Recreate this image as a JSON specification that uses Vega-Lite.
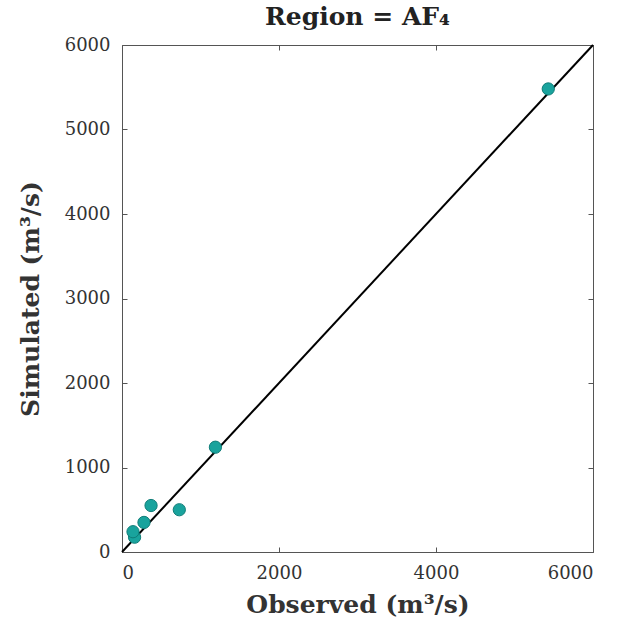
{
  "$schema": "https://vega.github.io/schema/vega-lite/v6.json",
  "width": 471,
  "height": 507,
  "autosize": "none",
  "padding": {"left": 122, "top": 45, "right": 31, "bottom": 72},
  "background": "white",
  "config": {
    "font": "DejaVu Serif",
    "view": {"stroke": "#555", "strokeWidth": 1},
    "axis": {
      "domainColor": "#555",
      "tickColor": "#555",
      "grid": false,
      "labelFont": "DejaVu Serif",
      "labelFontSize": 18,
      "labelColor": "#333",
      "titleFont": "DejaVu Serif",
      "titleFontSize": 25,
      "titleFontWeight": "bold",
      "titleColor": "#333",
      "format": "d"
    }
  },
  "title": {
    "text": "Region = AF₄",
    "font": "DejaVu Serif",
    "fontSize": 25,
    "fontWeight": "bold",
    "color": "#222",
    "offset": 6
  },
  "datasets": {
    "pts": [
      {"observed": 160, "simulated": 175},
      {"observed": 140, "simulated": 240},
      {"observed": 280, "simulated": 350},
      {"observed": 370, "simulated": 550},
      {"observed": 730, "simulated": 500},
      {"observed": 1190, "simulated": 1240},
      {"observed": 5430, "simulated": 5480}
    ],
    "diag": [
      {"observed": 0, "simulated": 0},
      {"observed": 6000, "simulated": 6000}
    ]
  },
  "layer": [
    {
      "data": {"name": "diag"},
      "mark": {"type": "line", "color": "black", "strokeWidth": 2},
      "encoding": {
        "x": {"field": "observed", "type": "quantitative",
              "scale": {"domain": [0, 6000], "nice": false},
              "axis": {"title": "Observed (m³/s)", "values": [0, 2000, 4000, 6000], "tickSize": -5, "labelPadding": 17, "titlePadding": 10, "domain": false}},
        "y": {"field": "simulated", "type": "quantitative",
              "scale": {"domain": [0, 6000], "nice": false},
              "axis": {"title": "Simulated (m³/s)", "values": [0, 1000, 2000, 3000, 4000, 5000, 6000], "tickSize": -5, "labelPadding": 17, "titlePadding": 21, "domain": false}}
      }
    },
    {
      "data": {"name": "diag"},
      "mark": {"type": "point", "opacity": 0},
      "encoding": {
        "x": {"field": "observed", "type": "quantitative",
              "axis": {"orient": "top", "title": null, "labels": false, "values": [0, 2000, 4000, 6000], "tickSize": -5, "domain": false}},
        "y": {"field": "simulated", "type": "quantitative",
              "axis": {"orient": "right", "title": null, "labels": false, "values": [0, 1000, 2000, 3000, 4000, 5000, 6000], "tickSize": -5, "domain": false}}
      }
    },
    {
      "data": {"name": "pts"},
      "mark": {"type": "point", "filled": true, "shape": "circle", "size": 150, "color": "#19a39d", "stroke": "#0f7d78", "strokeWidth": 1, "opacity": 1},
      "encoding": {
        "x": {"field": "observed", "type": "quantitative", "axis": null},
        "y": {"field": "simulated", "type": "quantitative", "axis": null}
      }
    }
  ],
  "resolve": {"axis": {"x": "independent", "y": "independent"}}
}
